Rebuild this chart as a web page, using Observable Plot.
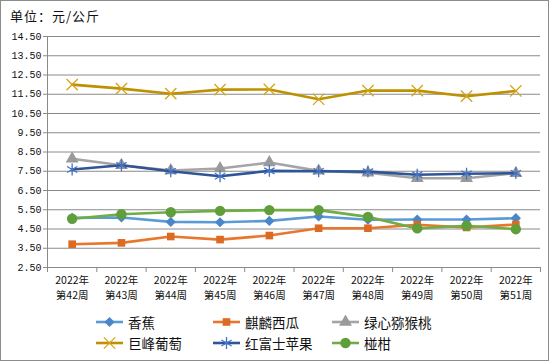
<!DOCTYPE html>
<html>
<head>
<meta charset="utf-8">
<script src="https://cdn.jsdelivr.net/npm/d3@7"></script>
<script src="https://cdn.jsdelivr.net/npm/@observablehq/plot@0.6"></script>
<style>
  html, body { margin: 0; padding: 0; background: #fff; }
  #wrap { position: relative; width: 550px; height: 362px; overflow: hidden; font-family: "Noto Sans CJK SC", sans-serif; }
  #border { position: absolute; left: 0; top: 0; width: 549px; height: 361px; border: 1px solid #8c8c8c; box-sizing: border-box; pointer-events: none; }
  #title { position: absolute; left: 10px; top: 6px; font-size: 13px; line-height: 20px; color: #111; letter-spacing: 1px; }
  #chart { position: absolute; left: 0; top: 28px; }
  .leg { position: absolute; height: 18px; display: flex; align-items: center; font-size: 13.5px; color: #111; }
  .leg svg { margin-right: 4px; }
</style>
</head>
<body>
<div id="wrap">
  <div id="title">单位：元/公斤</div>
  <div id="chart"></div>
  <div id="legend"></div>
  <div id="border"></div>
</div>
<script>
// ---- data ----
const weeks = [42, 43, 44, 45, 46, 47, 48, 49, 50, 51];
const yearLabel = "2022年";
const names = ["香蕉", "麒麟西瓜", "绿心猕猴桃", "巨峰葡萄", "红富士苹果", "椪柑"];
const banana     = [5.08, 5.10, 4.87, 4.85, 4.92, 5.15, 4.98, 4.99, 4.99, 5.06];
const watermelon = [3.71, 3.78, 4.11, 3.95, 4.16, 4.54, 4.54, 4.72, 4.58, 4.73];
const kiwi       = [8.15, 7.81, 7.54, 7.64, 7.95, 7.52, 7.42, 7.14, 7.14, 7.40];
const grape      = [12.00, 11.79, 11.53, 11.74, 11.75, 11.24, 11.69, 11.69, 11.40, 11.67];
const apple      = [7.59, 7.81, 7.50, 7.24, 7.52, 7.50, 7.48, 7.32, 7.37, 7.40];
const citrus     = [5.03, 5.27, 5.37, 5.44, 5.48, 5.48, 5.13, 4.53, 4.67, 4.49];
const yTicks = [2.5, 3.5, 4.5, 5.5, 6.5, 7.5, 8.5, 9.5, 10.5, 11.5, 12.5, 13.5, 14.5];

// ---- styles ----
const styles = [
  {values: banana,     line: "#5B9BD5", mark: "#4A86C8", symbol: "diamond2", filled: true,  r: 4.6},
  {values: watermelon, line: "#E8762D", mark: "#DB6B22", symbol: "square",   filled: true,  r: 4.3},
  {values: kiwi,       line: "#A5A5A5", mark: "#9A9A9A", symbol: "triangle", filled: true,  r: 4.8},
  {values: grape,      line: "#BF9000", mark: "#D4A41A", symbol: "times",    filled: false, r: 5.2},
  {values: apple,      line: "#2F5597", mark: "#4472C4", symbol: "asterisk", filled: false, r: 5.6},
  {values: citrus,     line: "#70AD47", mark: "#5F9E3A", symbol: "circle",   filled: true,  r: 5.2}
];
const series = styles.map((s, k) => ({...s, name: names[k], data: s.values.map((v, i) => ({i, v}))}));
const bounds = d3.range(-0.5, weeks.length, 1);
const idx = d3.range(0, weeks.length);

const marks = [
  Plot.gridY(yTicks, {stroke: "#8a8a8a", strokeOpacity: 1, strokeWidth: 1}),
  Plot.ruleX([-0.5], {stroke: "#8a8a8a", strokeWidth: 1}),
  Plot.ruleX(bounds, {y1: 2.5, y2: 2.5, insetBottom: -5, stroke: "#8a8a8a", strokeWidth: 1}),
  Plot.axisY({ticks: yTicks, tickSize: 4, tickPadding: 2, tickFormat: d => d.toFixed(2), label: null,
              stroke: "#8a8a8a", fontFamily: "Liberation Mono, DejaVu Sans Mono, monospace", fontSize: 10, fill: "#111"}),
  Plot.axisX({ticks: idx, tickSize: 0, tickPadding: 9, label: null,
              tickFormat: () => yearLabel,
              fontFamily: "Noto Sans CJK SC", fontSize: 10.5, fill: "#111"}),
  Plot.axisX({ticks: idx, tickSize: 0, tickPadding: 24.5, label: null,
              tickFormat: i => "第" + weeks[i] + "周",
              fontFamily: "Noto Sans CJK SC", fontSize: 10.5, fill: "#111"})
];
for (const s of series) {
  marks.push(Plot.line(s.data, {x: "i", y: "v", stroke: s.line, strokeWidth: 2.6, curve: "linear"}));
  marks.push(Plot.dot(s.data, {x: "i", y: "v", symbol: s.symbol, r: s.r,
    fill: s.filled ? s.mark : "none", stroke: s.filled ? "none" : s.mark, strokeWidth: s.filled ? 0 : 1.3}));
}

const chart = Plot.plot({
  width: 550,
  height: 280,
  marginLeft: 47,
  marginRight: 10,
  marginTop: 8,
  marginBottom: 41,
  style: {background: "transparent", overflow: "visible"},
  x: {type: "linear", domain: [-0.5, 9.5], axis: null, label: null},
  y: {domain: [2.5, 14.5], axis: null, label: null},
  marks
});
document.getElementById("chart").appendChild(chart);

// ---- legend ----
const symMap = {diamond2: d3.symbolDiamond2, square: d3.symbolSquare, triangle: d3.symbolTriangle,
                times: d3.symbolTimes, asterisk: d3.symbolAsterisk, circle: d3.symbolCircle};
const legPos = [[96, 313], [213, 313], [332, 313], [96, 334], [213, 334], [332, 334]];
const legend = d3.select("#legend");
series.forEach((s, k) => {
  const item = legend.append("div").attr("class", "leg")
    .style("left", legPos[k][0] + "px").style("top", legPos[k][1] + "px");
  const svg = item.append("svg").attr("width", 28).attr("height", 14);
  svg.append("line").attr("x1", 0).attr("x2", 27).attr("y1", 7).attr("y2", 7)
    .attr("stroke", s.line).attr("stroke-width", 2.6);
  svg.append("path").attr("transform", "translate(13.5,7)")
    .attr("d", d3.symbol(symMap[s.symbol], Math.PI * s.r * s.r)())
    .attr("fill", s.filled ? s.mark : "none")
    .attr("stroke", s.filled ? "none" : s.mark)
    .attr("stroke-width", s.filled ? 0 : 1.3);
  item.append("span").text(s.name);
});
</script>
</body>
</html>
